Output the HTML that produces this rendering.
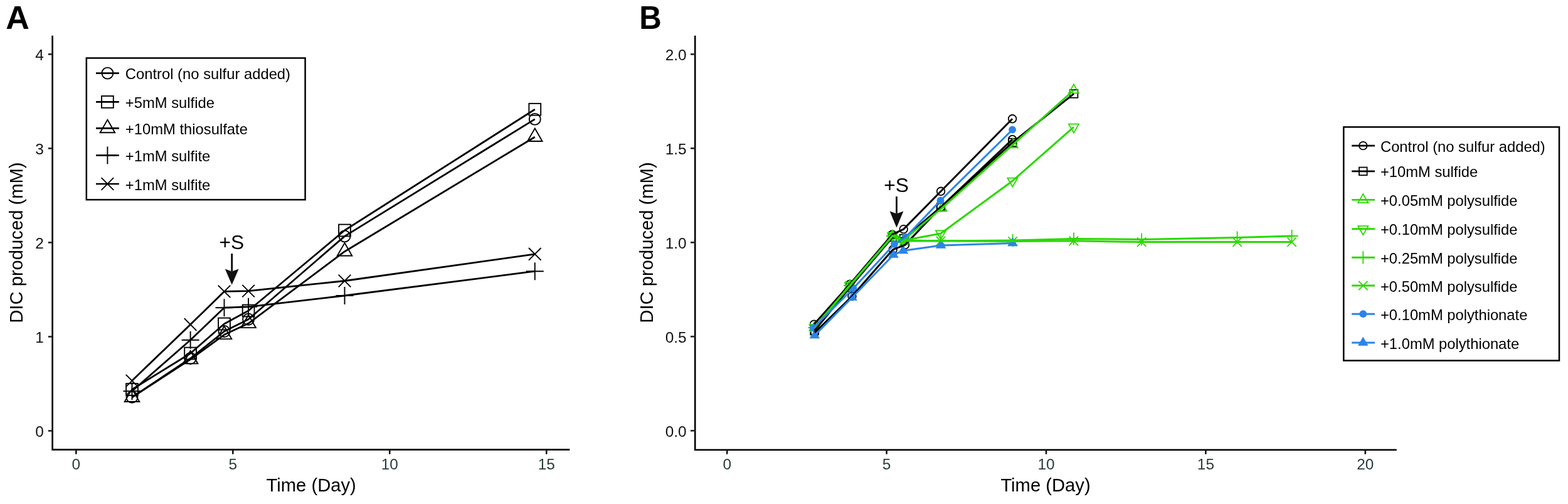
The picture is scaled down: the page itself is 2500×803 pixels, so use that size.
<!DOCTYPE html>
<html><head><meta charset="utf-8"><title>DIC produced</title>
<style>
html,body{margin:0;padding:0;background:#fff;}
body{width:2500px;height:803px;overflow:hidden;}
svg{display:block;font-family:'Liberation Sans',Arial,Helvetica,sans-serif}
</style></head><body>
<svg width="2500" height="803" viewBox="0 0 2500 803">
<rect width="2500" height="803" fill="#fff"/>
<text x="9.2" y="45.7" font-size="52" text-anchor="start" fill="#000" font-weight="bold" >A</text>
<path d="M83.6 56.8V716.4H908.4" fill="none" stroke="#000" stroke-width="2.6" stroke-linejoin="miter"/>
<line x1="76.8" y1="686.4" x2="83.6" y2="686.4" stroke="#222" stroke-width="2.6"/>
<text x="69.9" y="695.6" font-size="24.4" text-anchor="end" fill="#111" font-weight="normal" >0</text>
<line x1="76.8" y1="536.4" x2="83.6" y2="536.4" stroke="#222" stroke-width="2.6"/>
<text x="69.9" y="545.6" font-size="24.4" text-anchor="end" fill="#111" font-weight="normal" >1</text>
<line x1="76.8" y1="386.4" x2="83.6" y2="386.4" stroke="#222" stroke-width="2.6"/>
<text x="69.9" y="395.6" font-size="24.4" text-anchor="end" fill="#111" font-weight="normal" >2</text>
<line x1="76.8" y1="236.4" x2="83.6" y2="236.4" stroke="#222" stroke-width="2.6"/>
<text x="69.9" y="245.6" font-size="24.4" text-anchor="end" fill="#111" font-weight="normal" >3</text>
<line x1="76.8" y1="86.4" x2="83.6" y2="86.4" stroke="#222" stroke-width="2.6"/>
<text x="69.9" y="95.6" font-size="24.4" text-anchor="end" fill="#111" font-weight="normal" >4</text>
<line x1="121.3" y1="716.4" x2="121.3" y2="723.6" stroke="#111" stroke-width="2.6"/>
<text x="121.3" y="747.6" font-size="24.4" text-anchor="middle" fill="#2c3a3a" font-weight="normal" >0</text>
<line x1="371.3" y1="716.4" x2="371.3" y2="723.6" stroke="#111" stroke-width="2.6"/>
<text x="371.3" y="747.6" font-size="24.4" text-anchor="middle" fill="#2c3a3a" font-weight="normal" >5</text>
<line x1="621.3" y1="716.4" x2="621.3" y2="723.6" stroke="#111" stroke-width="2.6"/>
<text x="621.3" y="747.6" font-size="24.4" text-anchor="middle" fill="#2c3a3a" font-weight="normal" >10</text>
<line x1="871.3" y1="716.4" x2="871.3" y2="723.6" stroke="#111" stroke-width="2.6"/>
<text x="871.3" y="747.6" font-size="24.4" text-anchor="middle" fill="#2c3a3a" font-weight="normal" >15</text>
<text x="496.2" y="782.9" font-size="29.2" text-anchor="middle" fill="#000" font-weight="normal" >Time (Day)</text>
<text x="36" y="386.6" font-size="29.2" text-anchor="middle" fill="#000" font-weight="normal" transform="rotate(-90 36 386.6)">DIC produced (mM)</text>
<path d="M200.7 596.8L220.3 616.4M200.7 616.4L220.3 596.8" stroke="#000" stroke-width="1.9" fill="none"/>
<path d="M293.8 507.2L313.4 526.8M293.8 526.8L313.4 507.2" stroke="#000" stroke-width="1.9" fill="none"/>
<path d="M347.7 454.6L367.3 474.2M347.7 474.2L367.3 454.6" stroke="#000" stroke-width="1.9" fill="none"/>
<path d="M386.3 453.8L405.9 473.4M386.3 473.4L405.9 453.8" stroke="#000" stroke-width="1.9" fill="none"/>
<path d="M539.7 437.7L559.3 457.3M539.7 457.3L559.3 437.7" stroke="#000" stroke-width="1.9" fill="none"/>
<path d="M843 395L862.6 414.6M843 414.6L862.6 395" stroke="#000" stroke-width="1.9" fill="none"/>
<path d="M196.5 623.2H224.5M210.5 609.2V637.2" stroke="#000" stroke-width="1.9" fill="none"/>
<path d="M289.6 541.8H317.6M303.6 527.8V555.8" stroke="#000" stroke-width="1.9" fill="none"/>
<path d="M343.5 490.2H371.5M357.5 476.2V504.2" stroke="#000" stroke-width="1.9" fill="none"/>
<path d="M382.1 488.8H410.1M396.1 474.8V502.8" stroke="#000" stroke-width="1.9" fill="none"/>
<path d="M535.5 471H563.5M549.5 457V485" stroke="#000" stroke-width="1.9" fill="none"/>
<path d="M838.8 432.2H866.8M852.8 418.2V446.2" stroke="#000" stroke-width="1.9" fill="none"/>
<rect x="201.1" y="611.1" width="18.8" height="18.8" fill="none" stroke="#000" stroke-width="1.9"/>
<rect x="294.2" y="553.6" width="18.8" height="18.8" fill="none" stroke="#000" stroke-width="1.9"/>
<rect x="348.1" y="506.6" width="18.8" height="18.8" fill="none" stroke="#000" stroke-width="1.9"/>
<rect x="386.7" y="485.6" width="18.8" height="18.8" fill="none" stroke="#000" stroke-width="1.9"/>
<rect x="540.1" y="357.6" width="18.8" height="18.8" fill="none" stroke="#000" stroke-width="1.9"/>
<rect x="843.4" y="164.9" width="18.8" height="18.8" fill="none" stroke="#000" stroke-width="1.9"/>
<circle cx="210.5" cy="632.8" r="9" fill="none" stroke="#000" stroke-width="1.9"/>
<circle cx="303.6" cy="571" r="9" fill="none" stroke="#000" stroke-width="1.9"/>
<circle cx="357.5" cy="528" r="9" fill="none" stroke="#000" stroke-width="1.9"/>
<circle cx="396.1" cy="508.8" r="9" fill="none" stroke="#000" stroke-width="1.9"/>
<circle cx="549.5" cy="376.4" r="9" fill="none" stroke="#000" stroke-width="1.9"/>
<circle cx="852.8" cy="189.9" r="9" fill="none" stroke="#000" stroke-width="1.9"/>
<polygon points="210.5,619.6 222.28,640 198.72,640" fill="none" stroke="#000" stroke-width="1.9" stroke-linejoin="miter"/>
<polygon points="303.6,559 315.38,579.4 291.82,579.4" fill="none" stroke="#000" stroke-width="1.9" stroke-linejoin="miter"/>
<polygon points="357.5,519.7 369.28,540.1 345.72,540.1" fill="none" stroke="#000" stroke-width="1.9" stroke-linejoin="miter"/>
<polygon points="396.1,501.7 407.88,522.1 384.32,522.1" fill="none" stroke="#000" stroke-width="1.9" stroke-linejoin="miter"/>
<polygon points="549.5,387.1 561.28,407.5 537.72,407.5" fill="none" stroke="#000" stroke-width="1.9" stroke-linejoin="miter"/>
<polygon points="852.8,204.6 864.58,225 841.02,225" fill="none" stroke="#000" stroke-width="1.9" stroke-linejoin="miter"/>
<polyline points="210.5,606.6 303.6,517 357.5,464.4 396.1,463.6 549.5,447.5 852.8,404.8" fill="none" stroke="#000" stroke-width="2.8" stroke-linejoin="round" stroke-linecap="butt"/>
<polyline points="210.5,623.2 303.6,541.8 357.5,490.2 396.1,488.8 549.5,471 852.8,432.2" fill="none" stroke="#000" stroke-width="2.8" stroke-linejoin="round" stroke-linecap="butt"/>
<polyline points="210.5,620.5 303.6,563 357.5,516 396.1,495 549.5,367 852.8,174.3" fill="none" stroke="#000" stroke-width="2.8" stroke-linejoin="round" stroke-linecap="butt"/>
<polyline points="210.5,632.8 303.6,571 357.5,528 396.1,508.8 549.5,376.4 852.8,189.9" fill="none" stroke="#000" stroke-width="2.8" stroke-linejoin="round" stroke-linecap="butt"/>
<polyline points="210.5,633.2 303.6,572.6 357.5,533.3 396.1,515.3 549.5,400.7 852.8,218.2" fill="none" stroke="#000" stroke-width="2.8" stroke-linejoin="round" stroke-linecap="butt"/>
<text x="369.4" y="397.4" font-size="31.8" text-anchor="middle" fill="#000" font-weight="normal" >+S</text>
<line x1="369.7" y1="404.1" x2="369.7" y2="432.5" stroke="#000" stroke-width="2.7"/>
<polygon points="358.8,428.5 369.7,432.5 380.6,428.5 369.7,453.8" fill="#111"/>
<rect x="137.8" y="92.5" width="348.8" height="225.7" fill="#fff" stroke="#000" stroke-width="2.5"/>
<line x1="153" y1="116.6" x2="189.8" y2="116.6" stroke="#000" stroke-width="2.7"/>
<circle cx="171.4" cy="116.6" r="9" fill="none" stroke="#000" stroke-width="1.9"/>
<text x="199.8" y="126.1" font-size="23.8" text-anchor="start" fill="#000" font-weight="normal" >Control (no sulfur added)</text>
<line x1="153" y1="162.4" x2="189.8" y2="162.4" stroke="#000" stroke-width="2.7"/>
<rect x="162" y="153" width="18.8" height="18.8" fill="none" stroke="#000" stroke-width="1.9"/>
<text x="199.8" y="171.9" font-size="23.8" text-anchor="start" fill="#000" font-weight="normal" >+5mM sulfide</text>
<line x1="153" y1="204.4" x2="189.8" y2="204.4" stroke="#000" stroke-width="2.7"/>
<polygon points="171.4,190.8 183.18,211.2 159.62,211.2" fill="none" stroke="#000" stroke-width="1.9" stroke-linejoin="miter"/>
<text x="199.8" y="213.9" font-size="23.8" text-anchor="start" fill="#000" font-weight="normal" >+10mM thiosulfate</text>
<line x1="153" y1="247.5" x2="189.8" y2="247.5" stroke="#000" stroke-width="2.7"/>
<path d="M157.4 247.5H185.4M171.4 233.5V261.5" stroke="#000" stroke-width="1.9" fill="none"/>
<text x="199.8" y="257" font-size="23.8" text-anchor="start" fill="#000" font-weight="normal" >+1mM sulfite</text>
<line x1="153" y1="293" x2="189.8" y2="293" stroke="#000" stroke-width="2.7"/>
<path d="M161.6 283.2L181.2 302.8M161.6 302.8L181.2 283.2" stroke="#000" stroke-width="1.9" fill="none"/>
<text x="199.8" y="302.5" font-size="23.8" text-anchor="start" fill="#000" font-weight="normal" >+1mM sulfite</text>
<text x="0" y="0" font-size="52" text-anchor="start" fill="#000" font-weight="bold" transform="translate(1019.2 45.7) scale(0.945 1)">B</text>
<path d="M1108.2 56.8V716.7H2226.8" fill="none" stroke="#000" stroke-width="2.6" stroke-linejoin="miter"/>
<line x1="1101" y1="686.2" x2="1108.2" y2="686.2" stroke="#222" stroke-width="2.6"/>
<text x="1094.6" y="695.6" font-size="24.4" text-anchor="end" fill="#111" font-weight="normal" >0.0</text>
<line x1="1101" y1="536.2" x2="1108.2" y2="536.2" stroke="#222" stroke-width="2.6"/>
<text x="1094.6" y="545.6" font-size="24.4" text-anchor="end" fill="#111" font-weight="normal" >0.5</text>
<line x1="1101" y1="386.3" x2="1108.2" y2="386.3" stroke="#222" stroke-width="2.6"/>
<text x="1094.6" y="395.7" font-size="24.4" text-anchor="end" fill="#111" font-weight="normal" >1.0</text>
<line x1="1101" y1="236.3" x2="1108.2" y2="236.3" stroke="#222" stroke-width="2.6"/>
<text x="1094.6" y="245.7" font-size="24.4" text-anchor="end" fill="#111" font-weight="normal" >1.5</text>
<line x1="1101" y1="86.4" x2="1108.2" y2="86.4" stroke="#222" stroke-width="2.6"/>
<text x="1094.6" y="95.8" font-size="24.4" text-anchor="end" fill="#111" font-weight="normal" >2.0</text>
<line x1="1159.2" y1="716.7" x2="1159.2" y2="723.6" stroke="#111" stroke-width="2.6"/>
<text x="1159.2" y="747.6" font-size="24.4" text-anchor="middle" fill="#2c3a3a" font-weight="normal" >0</text>
<line x1="1413.6" y1="716.7" x2="1413.6" y2="723.6" stroke="#111" stroke-width="2.6"/>
<text x="1413.6" y="747.6" font-size="24.4" text-anchor="middle" fill="#2c3a3a" font-weight="normal" >5</text>
<line x1="1668" y1="716.7" x2="1668" y2="723.6" stroke="#111" stroke-width="2.6"/>
<text x="1668" y="747.6" font-size="24.4" text-anchor="middle" fill="#2c3a3a" font-weight="normal" >10</text>
<line x1="1922.4" y1="716.7" x2="1922.4" y2="723.6" stroke="#111" stroke-width="2.6"/>
<text x="1922.4" y="747.6" font-size="24.4" text-anchor="middle" fill="#2c3a3a" font-weight="normal" >15</text>
<line x1="2176.8" y1="716.7" x2="2176.8" y2="723.6" stroke="#111" stroke-width="2.6"/>
<text x="2176.8" y="747.6" font-size="24.4" text-anchor="middle" fill="#2c3a3a" font-weight="normal" >20</text>
<text x="1667" y="782.9" font-size="29.2" text-anchor="middle" fill="#000" font-weight="normal" >Time (Day)</text>
<text x="1041" y="386.5" font-size="29.2" text-anchor="middle" fill="#000" font-weight="normal" transform="rotate(-90 1041 386.5)">DIC produced (mM)</text>
<circle cx="1298" cy="516.6" r="6.3" fill="none" stroke="#000000" stroke-width="1.8"/>
<circle cx="1354.8" cy="453" r="6.3" fill="none" stroke="#000000" stroke-width="1.8"/>
<circle cx="1422.6" cy="373.7" r="6.3" fill="none" stroke="#000000" stroke-width="1.8"/>
<circle cx="1440.7" cy="365.1" r="6.3" fill="none" stroke="#000000" stroke-width="1.8"/>
<circle cx="1500.1" cy="304.8" r="6.3" fill="none" stroke="#000000" stroke-width="1.8"/>
<circle cx="1614.1" cy="189.3" r="6.3" fill="none" stroke="#000000" stroke-width="1.8"/>
<circle cx="1299" cy="529.9" r="6.3" fill="none" stroke="#000000" stroke-width="1.8"/>
<circle cx="1358.5" cy="472" r="6.3" fill="none" stroke="#000000" stroke-width="1.8"/>
<circle cx="1423.7" cy="397.6" r="6.3" fill="none" stroke="#000000" stroke-width="1.8"/>
<circle cx="1443.1" cy="390.1" r="6.3" fill="none" stroke="#000000" stroke-width="1.8"/>
<circle cx="1500" cy="330" r="6.3" fill="none" stroke="#000000" stroke-width="1.8"/>
<circle cx="1614.1" cy="222.2" r="6.3" fill="none" stroke="#000000" stroke-width="1.8"/>
<rect x="1292.2" y="520.7" width="12.6" height="12.6" fill="none" stroke="#000000" stroke-width="1.8"/>
<rect x="1348.7" y="451.7" width="12.6" height="12.6" fill="none" stroke="#000000" stroke-width="1.8"/>
<rect x="1416.7" y="371.7" width="12.6" height="12.6" fill="none" stroke="#000000" stroke-width="1.8"/>
<rect x="1434.7" y="373.7" width="12.6" height="12.6" fill="none" stroke="#000000" stroke-width="1.8"/>
<rect x="1493.7" y="323.7" width="12.6" height="12.6" fill="none" stroke="#000000" stroke-width="1.8"/>
<rect x="1608.1" y="220.7" width="12.6" height="12.6" fill="none" stroke="#000000" stroke-width="1.8"/>
<rect x="1705.8" y="143.1" width="12.6" height="12.6" fill="none" stroke="#000000" stroke-width="1.8"/>
<polygon points="1298.5,512.7 1306.55,526.65 1290.45,526.65" fill="none" stroke="#2ad800" stroke-width="1.8" stroke-linejoin="miter"/>
<polygon points="1355,445.7 1363.05,459.65 1346.95,459.65" fill="none" stroke="#2ad800" stroke-width="1.8" stroke-linejoin="miter"/>
<polygon points="1423,366.7 1431.05,380.65 1414.95,380.65" fill="none" stroke="#2ad800" stroke-width="1.8" stroke-linejoin="miter"/>
<polygon points="1441,372.7 1449.05,386.65 1432.95,386.65" fill="none" stroke="#2ad800" stroke-width="1.8" stroke-linejoin="miter"/>
<polygon points="1501.7,322.3 1509.75,336.25 1493.65,336.25" fill="none" stroke="#2ad800" stroke-width="1.8" stroke-linejoin="miter"/>
<polygon points="1614.8,221.3 1622.85,235.25 1606.75,235.25" fill="none" stroke="#2ad800" stroke-width="1.8" stroke-linejoin="miter"/>
<polygon points="1712,134.4 1720.05,148.35 1703.95,148.35" fill="none" stroke="#2ad800" stroke-width="1.8" stroke-linejoin="miter"/>
<polygon points="1298.5,531.3 1306.55,517.35 1290.45,517.35" fill="none" stroke="#2ad800" stroke-width="1.8" stroke-linejoin="miter"/>
<polygon points="1355,464.3 1363.05,450.35 1346.95,450.35" fill="none" stroke="#2ad800" stroke-width="1.8" stroke-linejoin="miter"/>
<polygon points="1423,385.3 1431.05,371.35 1414.95,371.35" fill="none" stroke="#2ad800" stroke-width="1.8" stroke-linejoin="miter"/>
<polygon points="1441,392.3 1449.05,378.35 1432.95,378.35" fill="none" stroke="#2ad800" stroke-width="1.8" stroke-linejoin="miter"/>
<polygon points="1500,381.3 1508.05,367.35 1491.95,367.35" fill="none" stroke="#2ad800" stroke-width="1.8" stroke-linejoin="miter"/>
<polygon points="1614.4,297.5 1622.45,283.55 1606.35,283.55" fill="none" stroke="#2ad800" stroke-width="1.8" stroke-linejoin="miter"/>
<polygon points="1712,211.6 1720.05,197.65 1703.95,197.65" fill="none" stroke="#2ad800" stroke-width="1.8" stroke-linejoin="miter"/>
<path d="M1288.5 522H1308.5M1298.5 512V532" stroke="#2ad800" stroke-width="1.8" fill="none"/>
<path d="M1345 455H1365M1355 445V465" stroke="#2ad800" stroke-width="1.8" fill="none"/>
<path d="M1413 376H1433M1423 366V386" stroke="#2ad800" stroke-width="1.8" fill="none"/>
<path d="M1431 383H1451M1441 373V393" stroke="#2ad800" stroke-width="1.8" fill="none"/>
<path d="M1490 383.8H1510M1500 373.8V393.8" stroke="#2ad800" stroke-width="1.8" fill="none"/>
<path d="M1604.6 383H1624.6M1614.6 373V393" stroke="#2ad800" stroke-width="1.8" fill="none"/>
<path d="M1702 380.4H1722M1712 370.4V390.4" stroke="#2ad800" stroke-width="1.8" fill="none"/>
<path d="M1810.2 381.4H1830.2M1820.2 371.4V391.4" stroke="#2ad800" stroke-width="1.8" fill="none"/>
<path d="M1962.6 378.4H1982.6M1972.6 368.4V388.4" stroke="#2ad800" stroke-width="1.8" fill="none"/>
<path d="M2049.6 376H2069.6M2059.6 366V386" stroke="#2ad800" stroke-width="1.8" fill="none"/>
<path d="M1291.3 514.8L1305.7 529.2M1291.3 529.2L1305.7 514.8" stroke="#2ad800" stroke-width="1.8" fill="none"/>
<path d="M1347.8 447.8L1362.2 462.2M1347.8 462.2L1362.2 447.8" stroke="#2ad800" stroke-width="1.8" fill="none"/>
<path d="M1415.8 368.8L1430.2 383.2M1415.8 383.2L1430.2 368.8" stroke="#2ad800" stroke-width="1.8" fill="none"/>
<path d="M1433.8 376.8L1448.2 391.2M1433.8 391.2L1448.2 376.8" stroke="#2ad800" stroke-width="1.8" fill="none"/>
<path d="M1492.8 376.8L1507.2 391.2M1492.8 391.2L1507.2 376.8" stroke="#2ad800" stroke-width="1.8" fill="none"/>
<path d="M1607.4 377.3L1621.8 391.7M1607.4 391.7L1621.8 377.3" stroke="#2ad800" stroke-width="1.8" fill="none"/>
<path d="M1704.6 376.6L1719 391M1704.6 391L1719 376.6" stroke="#2ad800" stroke-width="1.8" fill="none"/>
<path d="M1813 378.4L1827.4 392.8M1813 392.8L1827.4 378.4" stroke="#2ad800" stroke-width="1.8" fill="none"/>
<path d="M1965.4 378.4L1979.8 392.8M1965.4 392.8L1979.8 378.4" stroke="#2ad800" stroke-width="1.8" fill="none"/>
<path d="M2052.4 378.4L2066.8 392.8M2052.4 392.8L2066.8 378.4" stroke="#2ad800" stroke-width="1.8" fill="none"/>
<circle cx="1296.8" cy="522.4" r="5.9" fill="#2b84ea"/>
<circle cx="1360.5" cy="459.5" r="5.9" fill="#2b84ea"/>
<circle cx="1426" cy="389" r="5.9" fill="#2b84ea"/>
<circle cx="1444" cy="377.8" r="5.9" fill="#2b84ea"/>
<circle cx="1499.5" cy="319.5" r="5.9" fill="#2b84ea"/>
<circle cx="1614.1" cy="206.7" r="5.9" fill="#2b84ea"/>
<polygon points="1298.8,524.9 1307.11,539.3 1290.49,539.3" fill="#2b84ea"/>
<polygon points="1358.6,464.4 1366.91,478.8 1350.29,478.8" fill="#2b84ea"/>
<polygon points="1424.5,396.4 1432.81,410.8 1416.19,410.8" fill="#2b84ea"/>
<polygon points="1439.8,389.9 1448.11,404.3 1431.49,404.3" fill="#2b84ea"/>
<polygon points="1500.1,381.4 1508.41,395.8 1491.79,395.8" fill="#2b84ea"/>
<polygon points="1614.6,377.8 1622.91,392.2 1606.29,392.2" fill="#2b84ea"/>
<polyline points="1298,516.6 1354.8,453 1422.6,373.7 1440.7,365.1 1500.1,304.8 1614.1,189.3" fill="none" stroke="#000000" stroke-width="3.0" stroke-linejoin="round" stroke-linecap="butt"/>
<polyline points="1299,529.9 1358.5,472 1423.7,397.6 1443.1,390.1 1500,330 1614.1,222.2" fill="none" stroke="#000000" stroke-width="3.0" stroke-linejoin="round" stroke-linecap="butt"/>
<polyline points="1298.5,527 1355,458 1423,378 1441,380 1500,330 1614.4,227 1712.1,149.4" fill="none" stroke="#000000" stroke-width="3.0" stroke-linejoin="round" stroke-linecap="butt"/>
<polyline points="1298.5,522 1355,455 1423,376 1441,382 1501.7,331.6 1614.8,230.6 1712,143.7" fill="none" stroke="#2ad800" stroke-width="3.0" stroke-linejoin="round" stroke-linecap="butt"/>
<polyline points="1298.5,522 1355,455 1423,376 1441,383 1500,372 1614.4,288.2 1712,202.3" fill="none" stroke="#2ad800" stroke-width="3.0" stroke-linejoin="round" stroke-linecap="butt"/>
<polyline points="1298.5,522 1355,455 1423,376 1441,383 1500,383.8 1614.6,383 1712,380.4 1820.2,381.4 1972.6,378.4 2059.6,376" fill="none" stroke="#2ad800" stroke-width="3.0" stroke-linejoin="round" stroke-linecap="butt"/>
<polyline points="1298.5,522 1355,455 1423,376 1441,384 1500,384 1614.6,384.5 1711.8,383.8 1820.2,385.6 1972.6,385.6 2059.6,385.6" fill="none" stroke="#2ad800" stroke-width="3.0" stroke-linejoin="round" stroke-linecap="butt"/>
<polyline points="1296.8,522.4 1360.5,459.5 1426,389 1444,377.8 1499.5,319.5 1614.1,206.7" fill="none" stroke="#2b84ea" stroke-width="3.0" stroke-linejoin="round" stroke-linecap="butt"/>
<polyline points="1298.8,534.5 1358.6,474 1424.5,406 1439.8,399.5 1500.1,391 1614.6,387.4" fill="none" stroke="#2b84ea" stroke-width="3.0" stroke-linejoin="round" stroke-linecap="butt"/>
<text x="1429.1" y="306" font-size="31.8" text-anchor="middle" fill="#000" font-weight="normal" >+S</text>
<line x1="1429.5" y1="313" x2="1429.5" y2="340.6" stroke="#000" stroke-width="2.7"/>
<polygon points="1418.6,336.6 1429.5,340.6 1440.4,336.6 1429.5,362.8" fill="#111"/>
<rect x="2142.3" y="202.4" width="343.7" height="372.1" fill="#fff" stroke="#000" stroke-width="2.5"/>
<line x1="2155.2" y1="232.1" x2="2192" y2="232.1" stroke="#000000" stroke-width="2.9"/>
<circle cx="2173.3" cy="232.1" r="6.3" fill="none" stroke="#000000" stroke-width="1.8"/>
<text x="2201" y="241.6" font-size="23.75" text-anchor="start" fill="#000" font-weight="normal" >Control (no sulfur added)</text>
<line x1="2155.2" y1="272.9" x2="2192" y2="272.9" stroke="#000000" stroke-width="2.9"/>
<rect x="2167" y="266.6" width="12.6" height="12.6" fill="none" stroke="#000000" stroke-width="1.8"/>
<text x="2201" y="282.4" font-size="23.75" text-anchor="start" fill="#000" font-weight="normal" >+10mM sulfide</text>
<line x1="2155.2" y1="318.4" x2="2192" y2="318.4" stroke="#2ad800" stroke-width="2.9"/>
<polygon points="2173.3,309.1 2181.35,323.05 2165.25,323.05" fill="none" stroke="#2ad800" stroke-width="1.8" stroke-linejoin="miter"/>
<text x="2201" y="327.9" font-size="23.75" text-anchor="start" fill="#000" font-weight="normal" >+0.05mM polysulfide</text>
<line x1="2155.2" y1="364.8" x2="2192" y2="364.8" stroke="#2ad800" stroke-width="2.9"/>
<polygon points="2173.3,374.1 2181.35,360.15 2165.25,360.15" fill="none" stroke="#2ad800" stroke-width="1.8" stroke-linejoin="miter"/>
<text x="2201" y="374.3" font-size="23.75" text-anchor="start" fill="#000" font-weight="normal" >+0.10mM polysulfide</text>
<line x1="2155.2" y1="410.2" x2="2192" y2="410.2" stroke="#2ad800" stroke-width="2.9"/>
<path d="M2163.3 410.2H2183.3M2173.3 400.2V420.2" stroke="#2ad800" stroke-width="1.8" fill="none"/>
<text x="2201" y="419.7" font-size="23.75" text-anchor="start" fill="#000" font-weight="normal" >+0.25mM polysulfide</text>
<line x1="2155.2" y1="455" x2="2192" y2="455" stroke="#2ad800" stroke-width="2.9"/>
<path d="M2166.1 447.8L2180.5 462.2M2166.1 462.2L2180.5 447.8" stroke="#2ad800" stroke-width="1.8" fill="none"/>
<text x="2201" y="464.5" font-size="23.75" text-anchor="start" fill="#000" font-weight="normal" >+0.50mM polysulfide</text>
<line x1="2155.2" y1="500.2" x2="2192" y2="500.2" stroke="#2b84ea" stroke-width="2.9"/>
<circle cx="2173.3" cy="500.2" r="5.9" fill="#2b84ea"/>
<text x="2201" y="509.7" font-size="23.75" text-anchor="start" fill="#000" font-weight="normal" >+0.10mM polythionate</text>
<line x1="2155.2" y1="546" x2="2192" y2="546" stroke="#2b84ea" stroke-width="2.9"/>
<polygon points="2173.3,536.4 2181.61,550.8 2164.99,550.8" fill="#2b84ea"/>
<text x="2201" y="555.5" font-size="23.75" text-anchor="start" fill="#000" font-weight="normal" >+1.0mM polythionate</text>
</svg>
</body></html>
